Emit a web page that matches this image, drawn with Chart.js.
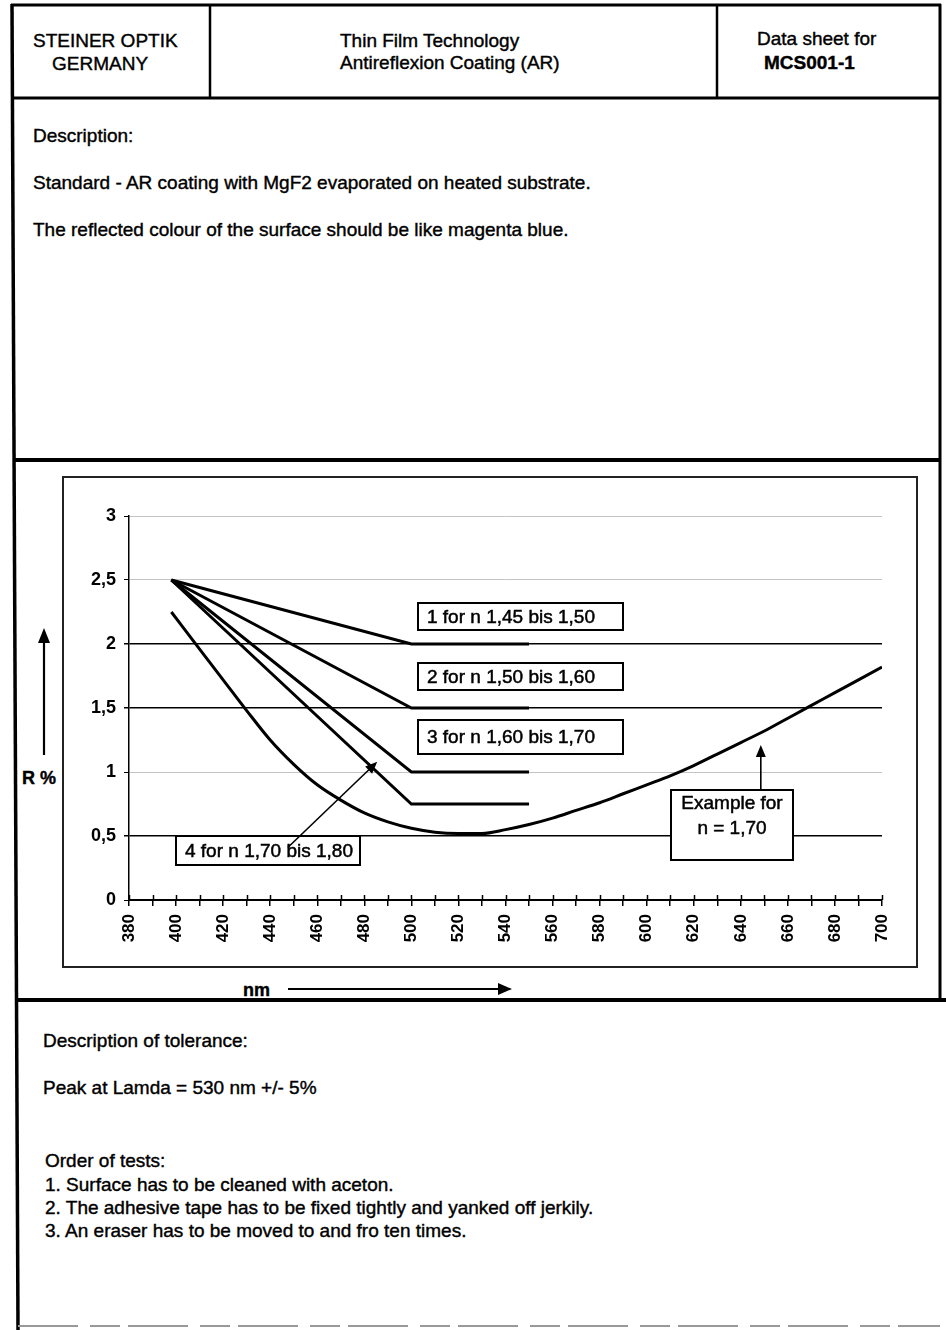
<!DOCTYPE html>
<html>
<head>
<meta charset="utf-8">
<script src="https://cdn.jsdelivr.net/npm/chart.js@4.4.1/dist/chart.umd.min.js"></script>
<style>
  html, body { margin: 0; padding: 0; background: #fff; }
  body { width: 946px; height: 1330px; position: relative; overflow: hidden;
         font-family: "Liberation Sans", Arial, sans-serif; color: #000; }
  .t { position: absolute; font-size: 19px; line-height: 23px; white-space: nowrap;
       -webkit-text-stroke: 0.4px #000; }
  .b { font-weight: bold; }
  #page { position: absolute; left: 0; top: 0; }
  #frame { position: absolute; left: 62px; top: 476px; width: 852px; height: 488px;
           border: 2px solid #222; }
  #wrap { position: absolute; left: 64px; top: 478px; width: 852px; height: 488px; }
</style>
</head>
<body>

<svg id="page" width="946" height="1330">
  <g stroke="#000" fill="none">
    <line x1="11" y1="5" x2="941" y2="5" stroke-width="3"/>
    <line x1="12" y1="98" x2="940" y2="98" stroke-width="3"/>
    <line x1="210" y1="5" x2="210" y2="98" stroke-width="2.5"/>
    <line x1="717" y1="5" x2="717" y2="98" stroke-width="2.5"/>
    <line x1="940" y1="4" x2="940" y2="1000" stroke-width="3"/>
    <line x1="12" y1="4" x2="18" y2="1330" stroke-width="3.5"/>
    <line x1="13" y1="460" x2="940" y2="460" stroke-width="4"/>
    <line x1="15" y1="1000" x2="946" y2="1000" stroke-width="4"/>
    <line x1="18" y1="1326" x2="940" y2="1326" stroke="#999" stroke-width="2" stroke-dasharray="60 12 30 8"/>
    <!-- axis title arrows -->
    <line x1="44" y1="755" x2="44" y2="640" stroke-width="2.2"/>
    <line x1="288" y1="989" x2="500" y2="989" stroke-width="2.2"/>
  </g>
  <polygon points="38,643 50,643 44,628" fill="#000"/>
  <polygon points="498,983 498,995 512,989" fill="#000"/>
</svg>

<div class="t" style="left:33px;top:29px;">STEINER OPTIK</div>
<div class="t" style="left:52px;top:52px;">GERMANY</div>
<div class="t" style="left:340px;top:29px;">Thin Film Technology</div>
<div class="t" style="left:340px;top:51px;">Antireflexion Coating (AR)</div>
<div class="t" style="left:757px;top:27px;">Data sheet for</div>
<div class="t b" style="left:764px;top:51px;">MCS001-1</div>

<div class="t" style="left:33px;top:124px;">Description:</div>
<div class="t" style="left:33px;top:171px;">Standard - AR coating with MgF2 evaporated on heated substrate.</div>
<div class="t" style="left:33px;top:218px;">The reflected colour of the surface should be like magenta blue.</div>

<div class="t b" style="left:22px;top:767px;font-size:18px;">R %</div>
<div class="t b" style="left:243px;top:979px;font-size:18px;">nm</div>

<div class="t" style="left:43px;top:1029px;">Description of tolerance:</div>
<div class="t" style="left:43px;top:1076px;">Peak at Lamda = 530 nm +/- 5%</div>
<div class="t" style="left:45px;top:1149px;">Order of tests:</div>
<div class="t" style="left:45px;top:1173px;">1. Surface has to be cleaned with aceton.</div>
<div class="t" style="left:45px;top:1196px;">2. The adhesive tape has to be fixed tightly and yanked off jerkily.</div>
<div class="t" style="left:45px;top:1219px;">3. An eraser has to be moved to and fro ten times.</div>

<div id="frame"></div>
<div id="wrap"><canvas id="chart"></canvas></div>

<script>
// wavelength (nm) of the four tolerance limit lines: start, knee, end
const bandNm = [398, 500, 550];
const band1R = [2.5, 2.0, 2.0];
const band2R = [2.5, 1.5, 1.5];
const band3R = [2.5, 1.0, 1.0];
const band4R = [2.5, 0.75, 0.75];

// example reflection curve for n = 1,70
const exampleNm = [398, 410, 420, 430, 440, 450, 460, 470, 480, 490, 500, 510, 520, 530, 540,
                   550, 560, 570, 580, 590, 600, 610, 620, 630, 640, 650, 660, 670, 680, 690, 700];
const exampleR  = [2.25, 1.96, 1.72, 1.48, 1.25, 1.06, 0.90, 0.78, 0.68, 0.61, 0.56, 0.53, 0.52, 0.52, 0.55,
                   0.59, 0.64, 0.70, 0.76, 0.83, 0.90, 0.97, 1.05, 1.14, 1.23, 1.32, 1.42, 1.52, 1.62, 1.72, 1.82];

// reflection levels drawn as solid reference lines
const solidLevels = [0.5, 1.5, 2];

// label boxes (corners in nm / R %) and pointer arrows
const noteBoxes = [
  { text: ['1 for n 1,45 bis 1,50'], x0: 503, x1: 590, y0: 2.32, y1: 2.11 },
  { text: ['2 for n 1,50 bis 1,60'], x0: 503, x1: 590, y0: 1.85, y1: 1.64 },
  { text: ['3 for n 1,60 bis 1,70'], x0: 503, x1: 590, y0: 1.41, y1: 1.14 },
  { text: ['4 for n 1,70 bis 1,80'], x0: 400, x1: 478, y0: 0.50, y1: 0.27 },
  { text: ['Example for', 'n = 1,70'], x0: 610.5, x1: 662, y0: 0.86, y1: 0.31, center: true }
];
const notePointers = [
  { from: [447.5, 0.41], to: [485.5, 1.08] },
  { from: [648.5, 0.86], to: [648.5, 1.21] }
];

const zip = (xs, ys) => xs.map((x, i) => ({ x, y: ys[i] }));
const FONT = '"Liberation Sans", Arial, sans-serif';

const notesPlugin = {
  id: 'notes',
  afterDatasetsDraw(chart) {
    const { ctx, scales: { x, y } } = chart;
    ctx.save();

    // short tick stubs above the x axis, so ticks cross the axis line
    const y0 = y.getPixelForValue(0);
    ctx.strokeStyle = '#000';
    ctx.lineWidth = 1.5;
    x.ticks.forEach(t => {
      const px = Math.round(x.getPixelForValue(t.value)) + 0.5;
      ctx.beginPath();
      ctx.moveTo(px, y0);
      ctx.lineTo(px, y0 - 5);
      ctx.stroke();
    });

    noteBoxes.forEach(b => {
      const l = Math.round(x.getPixelForValue(b.x0)), r = Math.round(x.getPixelForValue(b.x1));
      const t = Math.round(y.getPixelForValue(b.y0)), btm = Math.round(y.getPixelForValue(b.y1));
      ctx.fillStyle = '#fff';
      ctx.fillRect(l, t, r - l, btm - t);
      ctx.strokeStyle = '#000';
      ctx.lineWidth = 2;
      ctx.strokeRect(l, t, r - l, btm - t);
      ctx.font = '19px ' + FONT;
      ctx.fillStyle = '#000';
      ctx.lineWidth = 0.5;
      ctx.textBaseline = 'middle';
      b.text.forEach((line, i) => {
        let tx, ty;
        if (b.center) {
          ctx.textAlign = 'center';
          tx = (l + r) / 2;
          ty = t + 14 + i * 25;
        } else {
          ctx.textAlign = 'left';
          tx = l + 9;
          ty = (t + btm) / 2 + 1;
        }
        ctx.fillText(line, tx, ty);
        ctx.strokeText(line, tx, ty);
      });
    });

    notePointers.forEach(p => {
      const x1 = x.getPixelForValue(p.from[0]), y1 = y.getPixelForValue(p.from[1]);
      const x2 = x.getPixelForValue(p.to[0]), y2 = y.getPixelForValue(p.to[1]);
      const a = Math.atan2(y2 - y1, x2 - x1);
      ctx.strokeStyle = '#000';
      ctx.lineWidth = 1.6;
      ctx.beginPath();
      ctx.moveTo(x1, y1);
      ctx.lineTo(x2 - 8 * Math.cos(a), y2 - 8 * Math.sin(a));
      ctx.stroke();
      ctx.beginPath();
      ctx.moveTo(x2, y2);
      ctx.lineTo(x2 - 12 * Math.cos(a) + 5 * Math.sin(a), y2 - 12 * Math.sin(a) - 5 * Math.cos(a));
      ctx.lineTo(x2 - 12 * Math.cos(a) - 5 * Math.sin(a), y2 - 12 * Math.sin(a) + 5 * Math.cos(a));
      ctx.closePath();
      ctx.fillStyle = '#000';
      ctx.fill();
    });
    ctx.restore();
  }
};

const lineSet = (data, extra) => Object.assign({
  data, borderColor: '#000', borderWidth: 3, pointRadius: 0, fill: false, tension: 0
}, extra || {});

new Chart(document.getElementById('chart'), {
  type: 'line',
  data: {
    datasets: [
      lineSet(zip(bandNm, band1R)),
      lineSet(zip(bandNm, band2R)),
      lineSet(zip(bandNm, band3R)),
      lineSet(zip(bandNm, band4R)),
      lineSet(zip(exampleNm, exampleR), { cubicInterpolationMode: 'monotone' })
    ]
  },
  options: {
    responsive: true,
    maintainAspectRatio: false,
    animation: false,
    layout: { padding: { top: 38, right: 34, left: 0, bottom: 0 } },
    plugins: { legend: { display: false }, tooltip: { enabled: false } },
    scales: {
      x: {
        type: 'linear', min: 380, max: 700,
        afterFit: s => { s.height = 66; },
        border: { color: '#000', width: 2 },
        grid: { drawOnChartArea: false, tickLength: 6, color: '#000', tickColor: '#000', lineWidth: 1.5 },
        ticks: {
          stepSize: 10, autoSkip: false, minRotation: 90, maxRotation: 90, padding: 8,
          color: '#000', font: { family: FONT, size: 17, weight: 'bold' },
          callback: v => (v % 20 === 0 ? String(v) : '')
        }
      },
      y: {
        type: 'linear', min: 0, max: 3,
        afterFit: s => { s.width = 65; },
        border: { color: '#000', width: 1.5 },
        grid: {
          color: c => c.tick.value === 0 ? 'rgba(0,0,0,0)' : (solidLevels.includes(c.tick.value) ? '#000' : '#c4c4c4'),
          lineWidth: c => solidLevels.includes(c.tick.value) ? 1.5 : 1,
          tickLength: 5, tickColor: '#000'
        },
        ticks: {
          stepSize: 0.5, padding: 8, color: '#000',
          font: { family: FONT, size: 18, weight: 'bold' },
          callback: v => String(v).replace('.', ',')
        }
      }
    }
  },
  plugins: [notesPlugin]
});
</script>
</body>
</html>
